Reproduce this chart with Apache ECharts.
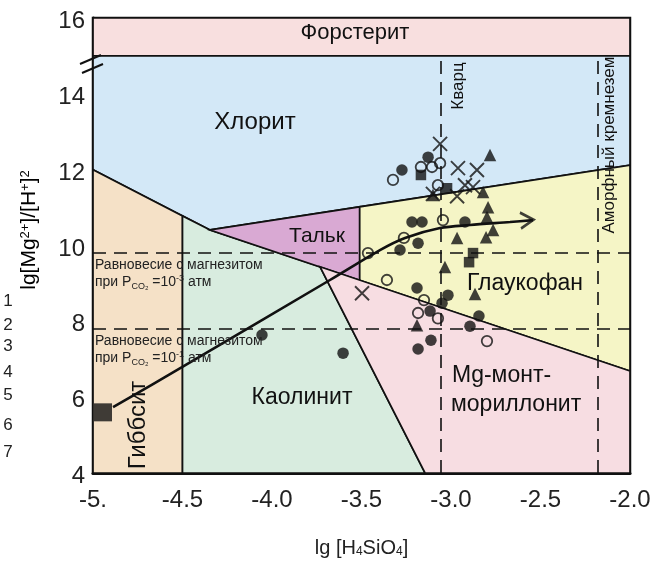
<!DOCTYPE html>
<html>
<head>
<meta charset="utf-8">
<script src="https://cdn.jsdelivr.net/npm/echarts@6/dist/echarts.min.js"></script>
<style>
  html, body { margin: 0; padding: 0; background: #fff; }
  #chart { width: 660px; height: 563px; }
</style>
</head>
<body>
<div id="chart"></div>
<script>
// stability fields (lg[H4SiO4], lg[Mg2+]/[H+]^2)
const fieldNames = ['Форстерит', 'Хлорит', 'Гиббсит', 'Каолинит', 'Тальк', 'Глаукофан', 'Mg-монтмориллонит'];
const fieldColors = ['#f8dfdf', '#d3e8f7', '#f5e1c7', '#d8ecdf', '#d9a9d3', '#f5f5c6', '#f7dde2'];
const fieldVertices = [
  [[-5, 15], [-2, 15], [-2, 16], [-5, 16]],
  [[-5, 12], [-4.346, 10.41], [-2, 12.12], [-2, 15], [-5, 15]],
  [[-5, 4], [-5, 12], [-4.5, 10.78], [-4.5, 4]],
  [[-4.5, 4], [-4.5, 10.78], [-4.346, 10.41], [-3.732, 9.44], [-3.145, 4]],
  [[-4.346, 10.41], [-3.51, 11.02], [-3.51, 9.08]],
  [[-3.51, 9.08], [-3.51, 11.02], [-2, 12.12], [-2, 6.69]],
  [[-3.732, 9.44], [-2, 6.69], [-2, 4], [-3.145, 4]]
];

// silica saturation (vertical) and magnesite equilibrium (horizontal)
const silicaX = [-3.06, -2.18];
const magnesiteY = [9.8, 7.8];

// evolution trend
const trendX = [-4.888, -4.503, -3.676, -3.397, -3.257, -3.061, -2.894, -2.670, -2.542];
const trendY = [5.74, 6.79, 9.09, 9.88, 10.20, 10.46, 10.54, 10.62, 10.67];

// water samples
const filledCircles = [
  [-3.128, 12.33], [-3.274, 11.99], [-3.218, 10.62], [-3.162, 10.62], [-2.922, 10.62],
  [-3.184, 10.06], [-3.285, 9.88], [-3.190, 8.88], [-3.017, 8.69], [-3.050, 8.48],
  [-3.117, 8.27], [-2.844, 8.14], [-2.894, 7.87], [-3.112, 7.50], [-3.184, 7.27],
  [-4.056, 7.64], [-3.603, 7.16]
];
const openCircles = [
  [-3.061, 12.17], [-3.106, 12.07], [-3.168, 12.07], [-3.324, 11.73], [-3.073, 11.59],
  [-3.045, 10.67], [-3.263, 10.20], [-3.464, 9.80], [-3.358, 9.09], [-3.151, 8.56],
  [-3.184, 8.22], [-3.073, 8.08], [-2.799, 7.48]
];
const filledSquares = [[-3.168, 11.86], [-3.022, 11.51], [-2.877, 9.80], [-2.899, 9.56]];
const gibbsitePoint = [[-4.944, 5.60]];
const crosses = [
  [-3.061, 12.68], [-2.961, 12.04], [-2.855, 11.99], [-2.922, 11.59], [-2.877, 11.54],
  [-2.966, 11.30], [-3.101, 11.36], [-3.497, 8.74]
];
const triangles = [
  [-2.782, 12.39], [-2.821, 11.41], [-2.793, 11.01], [-2.799, 10.75], [-2.966, 10.20],
  [-2.804, 10.22], [-2.765, 10.41], [-3.034, 9.43], [-2.866, 8.72], [-3.190, 7.90],
  [-3.101, 11.33]
];

const legendNums = ['1', '2', '3', '4', '5', '6', '7'];
const legendY = [301, 325, 346, 372, 395, 425, 452];

const FONT = 'Liberation Sans, Arial, sans-serif';
const INK = '#111';

const chart = echarts.init(document.getElementById('chart'));

function txt(x, y, text, size, opts, align) {
  return Object.assign({
    type: 'text', x: x, y: y, z: 50,
    style: { text: text, fontSize: size, fontFamily: FONT, fill: INK, align: align || 'center', verticalAlign: 'middle' }
  }, opts || {});
}

const magRich = {
  a: { fontSize: 14, fontFamily: FONT, color: '#222' },
  s: { fontSize: 9, fontFamily: FONT, color: '#222', verticalAlign: 'bottom', padding: [6, 0, 0, 0] },
  u: { fontSize: 9, fontFamily: FONT, color: '#222', verticalAlign: 'top', padding: [0, 0, 6, 0] }
};
function magText(y, pw) {
  return {
    type: 'text', x: 95, y: y, z: 50,
    style: {
      text: '{a|Равновесие с магнезитом}\n{a|при P}{s|CO₂}{a| =10}{u|-' + pw + '}{a| атм}',
      rich: magRich, fill: '#222', lineHeight: 17
    }
  };
}

const graphic = [
  txt(355, 33, 'Форстерит', 22),
  txt(255, 122, 'Хлорит', 24),
  txt(317, 236, 'Тальк', 21),
  txt(525, 284, 'Глаукофан', 23),
  txt(452, 376, 'Mg-монт-', 23, null, 'left'),
  txt(451, 405, 'мориллонит', 23, null, 'left'),
  txt(302, 398, 'Каолинит', 23),
  txt(138, 425, 'Гиббсит', 24, { rotation: Math.PI / 2 }),
  txt(458, 86, 'Кварц', 17, { rotation: Math.PI / 2 }),
  txt(609, 145, 'Аморфный кремнезем', 17, { rotation: Math.PI / 2 }),
  {
    type: 'text', x: 29, y: 230, z: 50, rotation: Math.PI / 2,
    style: {
      text: '{n|lg[Mg}{u|2+}{n|]/[H}{u|+}{n|]}{u|2}',
      align: 'center', verticalAlign: 'middle',
      rich: {
        n: { fontSize: 21, fontFamily: FONT, color: '#222' },
        u: { fontSize: 13, fontFamily: FONT, color: '#222', verticalAlign: 'top', padding: [0, 0, 8, 0] }
      }
    }
  },
  magText(257, 3),
  magText(333, 1),
  { type: 'line', z: 50, shape: { x1: 80, y1: 64, x2: 101, y2: 55 }, style: { stroke: INK, lineWidth: 2 } },
  { type: 'line', z: 50, shape: { x1: 82, y1: 73, x2: 103, y2: 64 }, style: { stroke: INK, lineWidth: 2 } }
].concat(legendNums.map((n, i) => ({
  type: 'text', x: 8, y: legendY[i], z: 50,
  style: { text: n, fontSize: 17, fontFamily: FONT, fill: '#222', align: 'center', verticalAlign: 'middle' }
})));

const dashed = { color: INK, width: 1.6, type: [13, 8] };
const markLines = silicaX.map(x => [{ coord: [x, 4] }, { coord: [x, 15] }])
  .concat(magnesiteY.map(y => [{ coord: [-5, y] }, { coord: [-2, y] }]));

function pts(name, data, symbol, size, style, z) {
  return { name: name, type: 'scatter', data: data, symbol: symbol, symbolSize: size, itemStyle: style, z: z || 10 };
}

chart.setOption({
  animation: false,
  backgroundColor: '#fff',
  grid: { left: 93, right: 30, top: 18, bottom: 90, show: true, borderColor: INK, borderWidth: 2.5, backgroundColor: 'transparent' },
  xAxis: {
    type: 'value', min: -5, max: -2, interval: 0.5,
    name: '{n|lg [H}{s|4}{n|SiO}{s|4}{n|]}', nameLocation: 'middle', nameGap: 65,
    nameTextStyle: {
      rich: {
        n: { fontSize: 20, fontFamily: FONT, color: '#222' },
        s: { fontSize: 12, fontFamily: FONT, color: '#222', verticalAlign: 'bottom', padding: [8, 0, 0, 0] }
      }
    },
    axisLine: { lineStyle: { color: INK, width: 3 } },
    axisTick: { inside: true, length: 10, lineStyle: { color: INK, width: 2 } },
    axisLabel: {
      margin: 15, fontSize: 24, fontFamily: FONT, color: '#222',
      formatter: v => (v === -5 ? '-5.' : v.toFixed(1))
    },
    splitLine: { show: false }
  },
  yAxis: {
    type: 'value', min: 4, max: 16, interval: 2,
    axisLine: { lineStyle: { color: INK, width: 3 } },
    axisTick: { inside: true, length: 10, lineStyle: { color: INK, width: 2 } },
    axisLabel: {
      margin: 8, fontSize: 24, fontFamily: FONT, color: '#222', showMaxLabel: true, showMinLabel: true,
      formatter: v => '{a|' + v + '}',
      rich: { a: { fontSize: 24, fontFamily: FONT, color: '#222', padding: [7, 0, 0, 0] } }
    },
    splitLine: { show: false }
  },
  graphic: graphic,
  series: [
    {
      type: 'custom', z: 1,
      data: fieldNames.map((n, i) => ({ name: n, value: [-5, 4, i] })),
      renderItem: (params, api) => {
        const i = api.value(2);
        return {
          type: 'polygon',
          shape: { points: fieldVertices[i].map(p => api.coord(p)) },
          style: { fill: fieldColors[i], stroke: INK, lineWidth: 1.7 }
        };
      },
      silent: true
    },
    {
      type: 'line', z: 3, data: [], silent: true,
      markLine: { silent: true, symbol: 'none', label: { show: false }, lineStyle: dashed, data: markLines }
    },
    pts('1', filledCircles, 'circle', 11.5, { color: INK }),
    pts('2', openCircles, 'circle', 10.5, { color: 'transparent', borderColor: INK, borderWidth: 1.8 }),
    pts('3', filledSquares, 'rect', 10.5, { color: INK }),
    pts('4', crosses, 'path://M0,0L10,10M10,0L0,10', 14, { color: 'transparent', borderColor: INK, borderWidth: 1.9 }),
    pts('5', triangles, 'triangle', 12.5, { color: INK }),
    pts('6', gibbsitePoint, 'rect', 18, { color: INK }),
    {
      type: 'line', z: 12, smooth: 0.3, symbol: 'none',
      data: trendX.map((x, i) => [x, trendY[i]]),
      lineStyle: { color: INK, width: 2.6 }
    },
    {
      type: 'scatter', z: 12,
      data: [[trendX[trendX.length - 1], trendY[trendY.length - 1]]],
      symbol: 'path://M0,0L12,7L0,14', symbolSize: [13, 16], symbolOffset: [-6, 0], symbolRotate: 4,
      itemStyle: { color: 'transparent', borderColor: INK, borderWidth: 2.6 }
    }
  ]
});
</script>
</body>
</html>
